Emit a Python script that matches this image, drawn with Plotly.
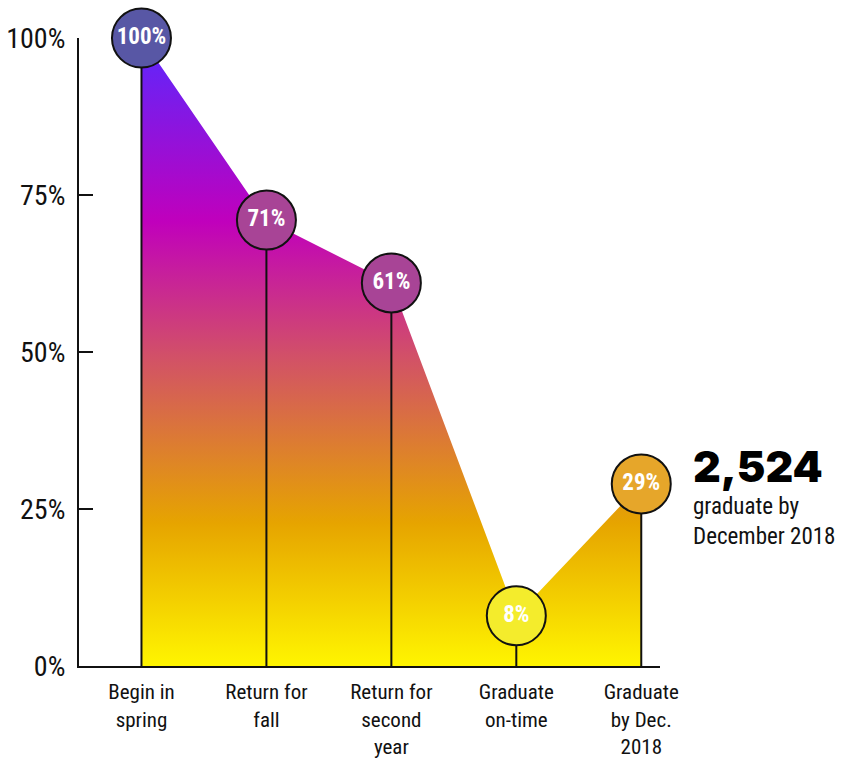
import plotly.graph_objects as go

# Student progression, share of the spring cohort at each stage
stages = ["Begin in<br>spring", "Return for<br>fall", "Return for<br>second<br>year",
          "Graduate<br>on-time", "Graduate<br>by Dec.<br>2018"]
shares = [100, 71, 61, 8, 29]
share_labels = ["100%", "71%", "61%", "8%", "29%"]
bubble_colors = ["#5857a5", "#a84496", "#a84496", "#f4ec2c", "#e6a62a"]

y_ticks = [0, 25, 50, 75, 100]
y_tick_text = ["0%", "25%", "50%", "75%", "100%"]

headline_value = "2,524"
headline_caption = "graduate by<br>December 2018"

COND = "Liberation Sans Narrow, Roboto Condensed, Arial Narrow, sans-serif"

xs = list(range(len(stages)))

fig = go.Figure()

# gradient area under the progression line
fig.add_trace(go.Scatter(
    x=xs, y=shares, mode="lines", fill="tozeroy",
    line=dict(width=0, color="rgba(0,0,0,0)"),
    fillgradient=dict(
        type="vertical", start=0, stop=100,
        colorscale=[[0.0, "#fff500"], [0.228, "#e6a400"], [0.489, "#d25266"],
                    [0.708, "#c000bc"], [1.0, "#5a28ff"]],
    ),
    hoverinfo="skip", showlegend=False,
))

# vertical stems from the baseline to each value
stem_x, stem_y = [], []
for x, v in zip(xs, shares):
    stem_x += [x, x, None]
    stem_y += [0, v, None]
fig.add_trace(go.Scatter(
    x=stem_x, y=stem_y, mode="lines",
    line=dict(color="#111111", width=2),
    hoverinfo="skip", showlegend=False,
))

# value bubbles
fig.add_trace(go.Scatter(
    x=xs, y=shares, mode="markers+text",
    marker=dict(size=59, color=bubble_colors, line=dict(color="#111111", width=2)),
    text=share_labels, textposition="middle center",
    textfont=dict(family=COND, size=23, color="white", weight="bold"),
    cliponaxis=False, hoverinfo="skip", showlegend=False,
))

# headline figure to the right of the chart
fig.add_annotation(
    x=1.054, y=0.318, xref="paper", yref="paper", showarrow=False,
    text=headline_value, xanchor="left", yanchor="middle",
    font=dict(family="Inter, DejaVu Sans, sans-serif", size=43, color="#000000", weight=900),
)
fig.add_annotation(
    x=1.054, y=0.279, xref="paper", yref="paper", showarrow=False,
    text=headline_caption, xanchor="left", yanchor="top", align="left",
    font=dict(family=COND, size=23, color="#111111"),
)

fig.update_layout(
    width=841, height=759,
    margin=dict(l=79, r=181, t=38, b=93),
    paper_bgcolor="white", plot_bgcolor="white",
    font=dict(family=COND, color="#111111"),
    xaxis=dict(
        range=[-0.5, 4.15], tickvals=xs, ticktext=stages, automargin=False,
        showgrid=False, zeroline=False, showline=True, linecolor="#111111", linewidth=2,
        ticks="", tickfont=dict(size=21, color="#111111"), ticklabelstandoff=6,
    ),
    yaxis=dict(
        range=[0, 100], tickvals=y_ticks, ticktext=y_tick_text, automargin=False,
        showgrid=False, zeroline=False, showline=True, linecolor="#111111", linewidth=2,
        ticks="inside", ticklen=14, tickwidth=2, tickcolor="#111111",
        tickfont=dict(size=28, color="#111111"), ticklabelstandoff=6,
    ),
)

fig.write_html("out.html")
